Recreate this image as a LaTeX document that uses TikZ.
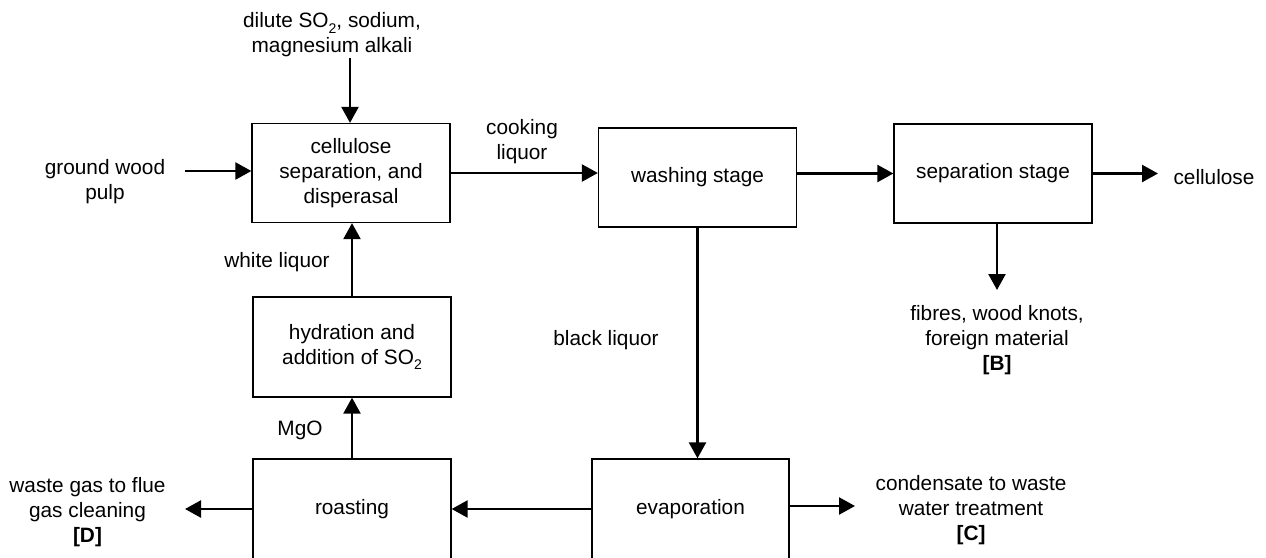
\documentclass[tikz,border=0pt]{standalone}
\usepackage{fontspec}
\setmainfont{Liberation Sans}
\usetikzlibrary{arrows.meta}
% chemical subscript, set a little lower than the default
\newcommand{\chemsub}[1]{\raisebox{-0.28em}{\fontsize{14}{14}\selectfont #1}}
\begin{document}
\begin{tikzpicture}[x=1pt, y=-1pt,
  font=\fontsize{20.8}{25}\selectfont,
  procbox/.style={draw, line width=1.3pt, rectangle, align=center,
    minimum width=198pt, minimum height=99pt, inner sep=2pt},
  lbl/.style={align=center, inner sep=0pt},
  flow/.style={line width=2.4pt, -{Triangle[length=16pt, width=17pt]}}]
\useasboundingbox (0,0) rectangle (1266,557);

% process boxes
\node[procbox] (cel) at (351,173) {cellulose\\separation, and\\disperasal};
\node[procbox] (wash) at (697.5,177.5) {washing stage};
\node[procbox] (sep) at (993,173.5) {separation stage};
\node[procbox, minimum height=100pt] (hyd) at (352,347) {hydration and\\addition of SO\chemsub{2}};
\node[procbox, minimum height=100pt] (roast) at (352,509) {roasting};
\node[procbox, minimum width=197pt, minimum height=100pt] (evap) at (690.5,509) {evaporation};

% stream labels
\node[lbl] (chem) at (332,35) {dilute SO\chemsub{2}, sodium,\\magnesium alkali};
\node[lbl] (gw) at (105,182) {ground wood\\pulp};
\node[lbl] (cook) at (522,142) {cooking\\liquor};
\node[lbl] (white) at (277,262) {white liquor};
\node[lbl] (mgo) at (300,430) {MgO};
\node[lbl] (black) at (606,340) {black liquor};
\node[lbl] (cellu) at (1214,177) {cellulose};
\node[lbl] (fib) at (997,340) {fibres, wood knots,\\foreign material\\\textbf{[B]}};
\node[lbl] (cond) at (971,510) {condensate to waste\\water treatment\\\textbf{[C]}};
\node[lbl] (waste) at (87.5,512) {waste gas to flue\\gas cleaning\\\textbf{[D]}};

% free ends of the connectors
\coordinate (chemEnd) at (350,58);
\coordinate (gwEnd) at (185,171);
\coordinate (celluEnd) at (1158,173.5);
\coordinate (fibEnd) at (997,290);
\coordinate (condEnd) at (855,506);
\coordinate (wasteEnd) at (185,509);

% connectors
\draw[flow] (chemEnd) -- (chemEnd |- cel.north);
\draw[flow] (gwEnd) -- (gwEnd -| cel.west);
\draw[flow] (cel.east) -- (cel.east -| wash.west);
\draw[flow] (sep.west -| wash.east) -- (sep.west);
\draw[flow] (sep.east) -- (celluEnd);
\draw[flow] (fibEnd |- sep.south) -- (fibEnd);
\draw[flow] (wash.south) -- (wash.south |- evap.north);
\draw[flow] (evap.west) -- (roast.east);
\draw[flow] (condEnd -| evap.east) -- (condEnd);
\draw[flow] (roast.west) -- (wasteEnd);
\draw[flow] (roast.north) -- (hyd.south);
\draw[flow] (hyd.north) -- (hyd.north |- cel.south);
\end{tikzpicture}
\end{document}
